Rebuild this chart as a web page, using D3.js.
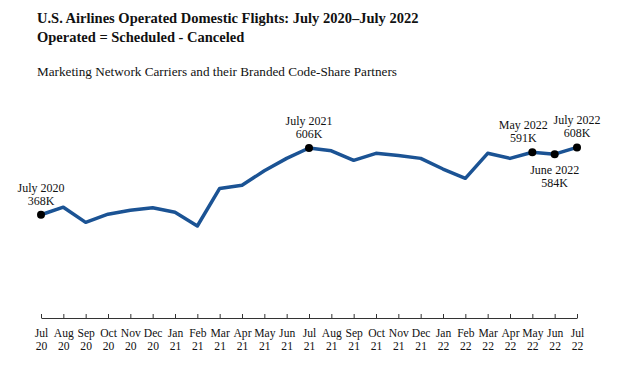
<!DOCTYPE html>
<html lang="en">
<head>
<meta charset="utf-8">
<title>U.S. Airlines Operated Domestic Flights</title>
<script src="https://cdn.jsdelivr.net/npm/d3@7"></script>
<style>
  body { margin: 0; background: #fff; }
  text { font-family: "Liberation Serif", "Times New Roman", serif; fill: #111; }
  .title { font-size: 14.5px; font-weight: bold; }
  .subtitle { font-size: 13.2px; }
  .lbl { font-size: 12px; }
  .axis text { font-size: 11.6px; }
</style>
</head>
<body>
<div class="chart"></div>
<script>
// monthly operated flights, thousands
var months = ["Jul","Aug","Sep","Oct","Nov","Dec","Jan","Feb","Mar","Apr","May","Jun",
              "Jul","Aug","Sep","Oct","Nov","Dec","Jan","Feb","Mar","Apr","May","Jun","Jul"];
var years  = ["20","20","20","20","20","20","21","21","21","21","21","21",
              "21","21","21","21","21","21","22","22","22","22","22","22","22"];
var flights = [368, 395, 341, 370, 384, 393, 377, 328, 462, 473, 525, 569,
               606, 596, 562, 587, 579, 569, 531, 498, 587, 569, 591, 584, 608];

// highlighted points
var callouts = [
  {i: 0,  name: "July 2020", pos: "above"},
  {i: 12, name: "July 2021", pos: "above"},
  {i: 22, name: "May 2022",  pos: "above", dx: -9},
  {i: 23, name: "June 2022", pos: "below"},
  {i: 24, name: "July 2022", pos: "above"}
];

var w = 635, h = 375;
var plotL = 41, plotR = 577, plotT = 148, plotB = 318;

var svg = d3.select("div.chart").append("svg")
  .attr("width", w).attr("height", h);

svg.append("text").attr("class", "title").attr("x", 37).attr("y", 23)
  .text("U.S. Airlines Operated Domestic Flights: July 2020\u2013July 2022");
svg.append("text").attr("class", "title").attr("x", 37).attr("y", 42)
  .text("Operated = Scheduled - Canceled");
svg.append("text").attr("class", "subtitle").attr("x", 37).attr("y", 76)
  .text("Marketing Network Carriers and their Branded Code-Share Partners");

var x = d3.scaleLinear().domain([0, flights.length - 1]).range([plotL, plotR]);
var y = d3.scaleLinear().domain([0, 606]).range([plotB, plotT]);

var axis = d3.axisBottom(x)
  .tickValues(d3.range(flights.length))
  .tickSize(0)
  .tickFormat("");

var gx = svg.append("g").attr("class", "axis")
  .attr("transform", "translate(0," + plotB + ")")
  .call(axis);
gx.select(".domain").attr("stroke", "#333").attr("stroke-width", 1);
gx.selectAll(".tick text").remove();
gx.selectAll(".tick line").attr("y2", -4).attr("stroke", "#333");

// month and year on two lines
gx.selectAll(".tick").append("text")
  .attr("y", 18.5).attr("text-anchor", "middle")
  .text(function(d) { return months[d]; });
gx.selectAll(".tick").append("text")
  .attr("y", 31.5).attr("text-anchor", "middle")
  .text(function(d) { return years[d]; });

var line = d3.line()
  .x(function(d, i) { return x(i); })
  .y(function(d) { return y(d); });

svg.append("path")
  .datum(flights)
  .attr("d", line)
  .attr("fill", "none")
  .attr("stroke", "#1b5394")
  .attr("stroke-width", 3.5)
  .attr("stroke-linejoin", "round");

svg.selectAll("circle.pt")
  .data(callouts)
  .enter()
  .append("circle")
  .attr("class", "pt")
  .attr("cx", function(d) { return x(d.i); })
  .attr("cy", function(d) { return y(flights[d.i]); })
  .attr("r", 4)
  .attr("fill", "#000");

var lab = svg.selectAll("g.callout")
  .data(callouts)
  .enter()
  .append("g")
  .attr("class", "callout")
  .attr("transform", function(d) {
    var px = x(d.i) + (d.dx || 0);
    var py = y(flights[d.i]);
    return "translate(" + px + "," + py + ")";
  });

var lt = lab.append("text").attr("class", "lbl").attr("text-anchor", "middle")
  .attr("y", function(d) { return d.pos === "above" ? -23 : 20; });
lt.append("tspan").attr("x", 0)
  .text(function(d) { return d.name; });
lt.append("tspan").attr("x", 0).attr("dy", 13)
  .text(function(d) { return flights[d.i] + "K"; });
</script>
</body>
</html>
